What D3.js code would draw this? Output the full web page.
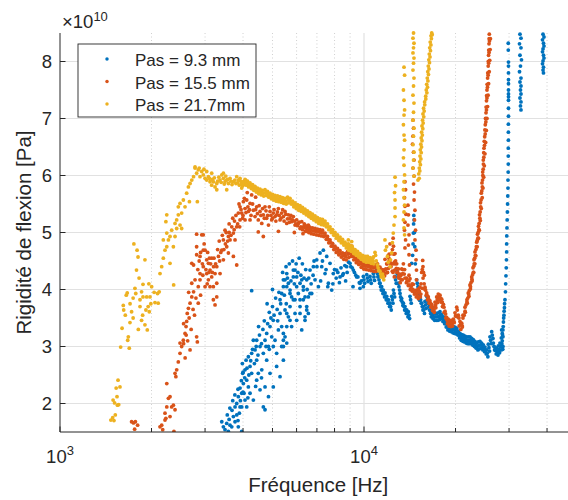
<!DOCTYPE html>
<html>
<head>
<meta charset="utf-8">
<script src="https://cdn.jsdelivr.net/npm/d3@7/dist/d3.min.js"></script>
<style>
    body { margin: 0; background: #fff; }
    text { font-family: "Liberation Sans", Arial, sans-serif; fill: #262626; }
</style>
</head>
<body>
<svg id="chart" width="568" height="500"></svg>
<script>
// values: [frequency in Hz, rigidity in 1e10 Pa]
var pas93 = [
    [3405,1.68],[3447,1.59],[3490,1.54],[3535,1.65],[3580,1.51],[3625,1.62],[3672,1.59],[3718,1.77],[3765,1.68],[3813,1.80],[3860,1.59],[3960,1.51],[3765,1.94],[3910,1.94],
    [3550,1.80],[3620,1.92],[3700,2.05],[3760,2.15],[3850,1.70],[3680,1.88],[3600,1.72],[3950,2.40],[4000,2.55],
    [3813,2.00],[3860,2.12],[3910,2.27],[3960,2.18],[4010,2.35],[3990,2.53],[4061,2.59],[4113,2.41],[4093,2.76],[4165,2.82],[4218,2.65],[4270,2.88],
    [4325,3.11],[4381,2.94],[4435,2.76],[4490,2.53],[4550,2.24],[4665,1.94],[4725,1.89],[4325,2.06],[4218,2.18],[4113,1.94],[4061,2.06],[4435,2.41],
    [4610,2.59],[4665,2.88],[4725,3.11],[4785,3.23],[4850,3.00],[4908,3.35],[4970,3.17],[5030,3.46],[5097,3.11],[5160,2.88],[5228,3.29],[5294,3.58],
    [5360,3.35],[5430,3.11],[5498,3.17],[5570,3.35],[5294,3.82],[5360,3.93],[5430,4.05],[5498,4.17],[5570,4.28],[5640,4.11],[5710,3.99],[5780,3.87],
    [5855,4.22],[5931,4.34],[6005,4.05],[6080,3.93],[6160,3.82],[6240,4.17],[6315,4.05],[6397,3.87],[6480,3.70],[6560,3.58],[6644,3.93],[5855,3.82],
    [5710,3.70],[5570,3.58],[5030,3.00],[4785,2.76],[4550,3.00],[4435,3.11],[4270,2.53],[4165,2.29],[4030,2.18],[3960,1.94],[3890,1.83],[4908,2.53],
    [5030,2.29],[4725,2.29],[4850,2.12],[5160,2.65],[5430,3.00],[5710,3.46],[5931,3.58],[6160,3.58],[6397,3.46],[4270,3.98],
    [5430,4.17],[5570,4.05],[5710,3.93],[5855,4.34],[6005,4.22],[5931,3.82],[6160,4.11],[6315,3.99],[6480,4.17],[6644,4.34],[6815,4.40],
    [5498,3.64],[5640,3.52],[5780,3.35],[5430,3.23],[6005,3.46],[6160,3.70],[6315,3.82],[6480,3.64],[6730,3.93],[6990,4.52],[7167,4.64],[7350,4.69],
    [7540,4.58],[7731,4.46],[7260,4.40],[7444,4.28],[7635,4.11],[7830,3.99],[7925,4.28],[8130,4.34],[8339,4.22],[8550,4.28],[8770,4.40],[8995,4.46],
    [9225,4.34],[9460,4.22],[9702,4.11],[9950,4.05],[6901,4.17],[7080,4.05],[6560,3.87],[6397,3.52],[6240,3.29],[5570,3.06],[5430,2.76],[5294,2.47],[5360,3.00],
    [3850,2.25],[3920,2.05],[4000,2.20],[4050,2.45],[4120,2.62],[4180,2.50],[4240,2.75],[4300,2.95],[4360,2.70],[4420,3.00],[4480,2.85],[4530,3.20],
    [4600,3.05],[4650,3.30],[4700,3.45],[4760,3.00],[4820,3.40],[4880,3.60],[4940,3.50],[5000,3.70],[5060,3.55],[5120,3.85],[5180,3.65],[5250,3.95],
    [5320,3.75],[5400,4.30],[5470,3.90],[5540,4.40],[5600,4.20],[5680,4.45],[5750,4.15],[5820,4.50],[5900,4.10],[5980,4.45],[6060,4.30],[6120,4.55],
    [6200,4.25],[6270,4.45],[6350,4.20],[6430,4.35],[6500,4.00],[6580,4.20],[6700,4.10],[6850,4.50],[4400,2.30],[4600,2.45],[4150,2.10],[3980,2.70],
    [4500,3.35],[4880,2.95],[5200,3.45],[5550,3.75],[5000,4.00],[4800,3.75],
    [8000,4.35],[8200,4.30],[8400,4.38],[8650,4.42],[8900,4.48],[9050,4.40],[9300,4.30],[9550,4.22],[9800,4.15],[8100,4.20],[8500,4.25],[8800,4.30],
    [9150,4.38],[9400,4.25],[9650,4.12],[7500,4.35],[7300,4.50],[7000,4.40],[6800,4.25],[7200,4.15],[7600,4.05],[7900,4.10],[8300,4.12],[8700,4.15],[9200,4.05],[9700,4.02],
    [9950,4.23],[10210,4.26],[10465,4.23],[10730,4.28],[11010,4.34],[11150,4.23],[11288,4.11],[11430,4.05],[11575,3.99],[11725,3.94],[11875,3.88],[12020,3.82],
    [12176,3.76],[12335,3.88],[12495,3.99],[12646,4.23],[12810,4.34],[12970,4.11],[13134,3.93],[13300,3.84],[13475,3.76],[13640,3.70],[13815,3.64],[13990,3.61],
    [14167,3.88],[14350,4.46],[14905,4.17],[15095,3.93],[15282,3.88],[15480,3.76],[15660,3.70],[15870,3.79],[16077,3.88],[16274,3.76],[16484,3.64],[16700,3.61],
    [16910,3.58],[17120,3.58],[17340,3.58],[17550,3.59],[17780,3.61],[18010,3.56],[18240,3.52],[18466,3.46],[18700,3.41],[18930,3.39],[19179,3.38],[19430,3.36],
    [19680,3.35],[19919,3.34],[20180,3.32],[20430,3.27],[20687,3.23],[20955,3.21],[21210,3.20],[21485,3.18],[21740,3.17],[22030,3.17],[22315,3.17],[22600,3.14],
    [22880,3.12],[23176,3.09],[23477,3.06],[23770,3.08],[24070,3.09],[24370,3.06],[24680,3.03],[25000,2.99],[25317,2.94],[25640,3.04],[25964,3.17],[26300,3.26],
    [26640,3.06],[26966,2.99],[27330,2.97],[27660,3.01],[28006,3.06],[28370,3.29],
    [9995,4.17],[10256,4.20],[10512,4.17],[10778,4.22],[11060,4.28],[11200,4.17],[11339,4.05],[11481,3.99],[11627,3.93],[11778,3.88],[11928,3.82],[12074,3.76],
    [12231,3.70],[12390,3.82],[12551,3.93],[12703,4.17],[12868,4.28],[13028,4.05],[13193,3.87],[13360,3.78],[13536,3.70],[13701,3.64],[13877,3.58],[14053,3.55],
    [14231,3.82],[14972,4.11],[15163,3.87],[15351,3.82],[15550,3.70],[15730,3.64],[15941,3.73],[16149,3.82],[16347,3.70],[16558,3.58],[16775,3.55],[16986,3.52],
    [17197,3.52],[17418,3.52],[17629,3.53],[17860,3.55],[18091,3.50],[18322,3.46],[18549,3.40],[18784,3.35],[19015,3.33],[19265,3.32],[19517,3.30],[19769,3.29],
    [20009,3.28],[20271,3.26],[20522,3.21],[20780,3.17],[21049,3.15],[21305,3.14],[21582,3.12],[21838,3.11],[22129,3.11],[22415,3.11],[22702,3.08],[22983,3.06],
    [23280,3.03],[23583,3.00],[23877,3.02],[24178,3.03],[24480,3.00],[24791,2.97],[25112,2.93],[25431,2.88],[25755,2.98],[26081,3.11],[26418,3.20],[26760,3.00],
    [27087,2.93],[27453,2.91],[27784,2.95],[28132,3.00],[28498,3.23],
    [10045,4.11],[10307,4.14],[10564,4.11],[10832,4.16],[11115,4.22],[11256,4.11],[11395,3.99],[11540,3.93],[11685,3.87],[11836,3.82],[11988,3.76],[12134,3.70],
    [12292,3.64],[12452,3.76],[12614,3.87],[12766,4.11],[12932,4.22],[13093,3.99],[13259,3.81],[13426,3.72],[13603,3.64],[13770,3.58],[13946,3.52],[14123,3.49],
    [14302,3.76],[15047,4.05],[15238,3.81],[15427,3.76],[15627,3.64],[15809,3.58],[16021,3.67],[16230,3.76],[16429,3.64],[16641,3.52],[16859,3.49],[17071,3.46],
    [17283,3.46],[17505,3.46],[17717,3.47],[17949,3.49],[18181,3.44],[18413,3.40],[18641,3.34],[18878,3.29],[19110,3.27],[19361,3.26],[19615,3.24],[19867,3.23],
    [20108,3.22],[20372,3.20],[20624,3.15],[20883,3.11],[21154,3.09],[21411,3.08],[21689,3.06],[21946,3.05],[22239,3.05],[22527,3.05],[22815,3.02],[23097,3.00],
    [23396,2.97],[23700,2.94],[23996,2.96],[24299,2.97],[24601,2.94],[24914,2.91],[25237,2.87],[25558,2.82],[25884,2.92],[26211,3.05],[26550,3.14],[26893,2.94],
    [27222,2.87],[27590,2.85],[27922,2.89],[28272,2.94],[28640,3.17],
    [14450,4.60],[14500,4.80],[14530,4.99],[14560,5.15],[14580,5.30],[14610,5.22],[14650,5.00],[14690,4.75],[14750,4.45],
    [28500,3.10],[28560,3.20],[28700,3.35],[28800,3.50],[28900,3.62],[29000,3.75],[28400,3.05],[28300,3.15],[28650,3.00],[28600,2.95],
    [28640,3.29],[28750,3.43],[28860,3.55],[28970,3.68],[29087,3.82],[29197,3.96],[29240,4.10],[29307,4.24],[29374,4.38],[29418,4.52],[29463,4.66],[29463,4.80],
    [29485,4.94],[29530,5.08],[29575,5.22],[29620,5.36],[29665,5.50],[29710,5.64],[29755,5.78],[29755,5.92],[29800,6.06],[29823,6.20],[29823,6.34],[29823,6.48],
    [29846,6.62],[29846,6.76],[29846,6.90],[29870,7.04],[29870,7.18],[29870,7.32],[29870,7.38],[29870,7.43],[29870,7.50],[29870,7.61],[29870,7.68],[29870,7.80],
    [29870,7.92],[29870,7.99],[29823,8.20],[29823,8.32],
    [32586,8.48],[32835,8.41],[32470,8.31],[32835,8.24],[32586,8.11],[32960,8.03],[32710,7.92],[32470,7.82],[32835,7.71],[32586,7.64],[32835,7.57],[32710,7.50],
    [32835,7.43],[32586,7.36],[32835,7.29],[32710,7.22],[32835,7.15],
    [38800,8.48],[39080,8.43],[38650,8.38],[38940,8.32],[39080,8.27],[38800,8.22],[38650,8.17],[38940,8.11],[39080,8.06],[38800,8.01],[38650,7.96],[38940,7.90],
    [38800,7.85],[38940,7.80]
];

var pas155 = [
    [1720,1.68],[1745,1.66],[1770,1.68],[1800,1.62],[1760,1.55],
    [2133,1.59],[2160,1.62],[2177,1.54],[2215,1.83],[2230,1.74],[2245,1.94],[2273,2.09],[2301,2.12],[2301,1.77],[2330,1.94],[2360,1.97],[2370,1.51],[2390,1.89],[2245,2.35],[2215,1.71],
    [2390,2.53],[2420,2.59],[2450,2.73],[2405,2.47],[2482,2.88],[2513,3.00],[2545,3.11],[2578,3.23],[2482,3.06],[2598,3.35],[2610,3.44],[2622,3.58],[2645,3.67],
    [2678,2.94],[2678,3.76],[2713,3.87],[2713,4.11],[2750,4.43],[2750,3.96],[2781,4.17],[2815,4.75],[2815,3.17],[2830,3.08],[2850,3.76],[2850,4.05],[2888,4.58],
    [2888,4.28],[2925,4.96],[2960,4.96],[2960,4.69],[2960,4.40],[3000,4.05],[3038,4.28],[3038,4.52],[3077,4.17],[3115,4.34],[3115,4.05],[3155,4.22],[3195,4.05],
    [3195,3.82],[3236,3.73],[3236,4.28],[3278,4.40],[3278,4.11],[3320,4.58],[3361,4.28],[3405,4.69],[3447,4.87],[3447,4.52],[3490,5.04],[3535,4.75],[3580,4.93],
    [3580,4.64],[3625,4.87],[3672,5.10],[3718,4.99],[3718,4.58],[3765,4.87],[3813,5.10],[3813,4.43],[3860,5.34],[3910,5.45],[3910,5.22],[3960,5.34],[4010,5.54],
    [4061,5.42],[4061,5.22],[4113,5.57],[4165,5.37],[4218,5.51],[4218,5.22],[4270,5.66],[4325,5.39],[4381,5.28],[4435,5.45],[4490,5.22],[4550,5.37],[4610,5.16],
    [4665,5.31],[4725,5.45],[4785,5.25],[4850,5.13],[4908,5.37],[4970,5.22],[5030,5.34],[5097,5.28],[5160,5.31],[5228,5.42],[5294,5.22],[5360,5.34],[5430,5.28],
    [5498,5.37],[5570,5.16],[5640,5.31],[5710,5.25],[5780,5.19],[5855,5.28],[5931,5.13],[6005,5.22],[6080,5.16],[6160,5.07],[6240,5.19],[6315,5.10],[6480,5.07],
    [6560,5.13],[6644,5.04],
    [4665,4.93],[4490,5.01],[2815,4.97],[2713,4.46],[2815,4.61],[3155,4.55],[3077,4.46],[3278,3.87],[3000,4.69],[2888,4.17],
    [2550,3.05],[2580,2.80],[2630,3.10],[2660,3.50],[2700,3.30],[2740,3.65],[2770,3.55],[2800,3.85],[2840,4.35],[2870,4.50],[2900,4.65],[2940,4.45],
    [2980,4.80],[3020,4.35],[3060,4.65],[3090,4.30],[3130,4.45],[3170,4.30],[3210,4.55],[3250,4.45],[3300,4.70],[3340,4.85],[3380,4.65],[3420,4.95],
    [3460,4.70],[3520,5.00],[3560,4.85],[3600,5.15],[3650,4.95],[3700,5.25],[3740,5.05],[3790,5.30],[3840,5.15],[3880,5.50],[3940,5.40],[3990,5.25],
    [4040,5.60],[4090,5.35],[4130,5.70],[4200,5.40],
    [4150,5.45],[4250,5.30],[4300,5.50],[4400,5.40],[4460,5.33],[4520,5.47],[4580,5.30],[4640,5.42],[4700,5.25],[4760,5.38],[4820,5.30],[4880,5.45],[4940,5.30],
    [5000,5.25],[5060,5.40],[5130,5.20],[5190,5.36],[5260,5.30],[5330,5.25],[5400,5.40],[5460,5.20],[5530,5.32],[5600,5.24],[5680,5.18],[5750,5.30],[5820,5.22],
    [5900,5.20],[5970,5.15],[6040,5.12],[6120,5.18],[6200,5.10],[6280,5.05],[6360,5.15],[6420,5.02],[6600,5.10],[5230,5.02],[5900,5.00],[6300,4.98],[4400,5.62],
    [4000,5.30],[3900,5.10],[3750,5.20],[3600,5.00],[3500,4.80],[3350,4.50],[3200,4.40],[3100,4.55],[3050,4.10],[2950,4.25],[2900,3.90],[2650,3.95],[2600,3.20],[2550,3.40],
    [6397,5.13],[6520,5.11],[6644,5.09],[6771,5.08],[6901,5.07],[7032,5.06],[7167,5.05],[7304,5.04],[7444,4.99],[7586,4.93],[7731,4.87],[7879,4.81],[8029,4.76],
    [8183,4.72],[8339,4.68],[8498,4.64],[8661,4.63],[8827,4.67],[8880,4.74],[8995,4.69],[9110,4.76],[9167,4.63],[9342,4.58],[9521,4.55],[9702,4.50],[9888,4.47],
    [10076,4.46],[10269,4.45],[10465,4.44],[10665,4.43],[10869,4.43],[11077,4.45],[11288,4.39],[11504,4.35],[11724,4.53],[11875,4.45],[12020,4.60],[12176,4.80],
    [12335,4.63],[12646,4.63],[12810,4.45],[12970,4.36],[13134,4.27],[13305,4.36],[13475,4.45],[14167,4.19],[14530,4.09],[14905,3.99],[15095,4.01],[15282,4.04],
    [15480,4.30],[15597,4.51],[15690,4.30],[15871,4.04],[16077,3.94],[16274,3.87],[16484,3.80],[16700,3.74],[16910,3.69],[17120,3.78],[17340,3.87],[17550,3.92],
    [17780,3.90],[18010,3.83],[18240,3.74],[18466,3.62],[18700,3.51],[18930,3.48],[19179,3.46],[19430,3.46],[19680,3.48],[19919,3.59],[20180,3.69],[20430,3.55],
    [20687,3.44],[20955,3.41],[21161,3.55],
    [6426,5.08],[6549,5.06],[6674,5.04],[6801,5.03],[6932,5.02],[7064,5.01],[7199,5.00],[7337,4.99],[7477,4.94],[7620,4.88],[7766,4.82],[7914,4.76],
    [8065,4.71],[8220,4.67],[8377,4.63],[8536,4.59],[8700,4.58],[8867,4.62],[9035,4.64],[9208,4.58],[9384,4.53],[9564,4.50],[9746,4.45],[9932,4.42],
    [10121,4.41],[10315,4.40],[10512,4.39],[10713,4.38],[10918,4.38],[11127,4.40],[11339,4.34],[11556,4.30],[15942,3.99],[16149,3.89],[16347,3.82],[16558,3.75],
    [16775,3.69],[16986,3.64],[17197,3.73],[17418,3.82],[17629,3.87],[17860,3.85],[18091,3.78],[18322,3.69],[18549,3.57],[18784,3.46],[19015,3.43],[19265,3.41],
    [19517,3.41],[19769,3.43],[20009,3.54],[20271,3.64],[20522,3.50],[20780,3.39],[21049,3.36],
    [11950,4.30],[12250,4.45],[12700,4.50],[13050,4.25],[13600,4.35],[13800,4.20],[14050,4.15],[14400,4.10],[14800,3.98],[15200,3.97],[15550,4.35],[12400,4.70],[12100,4.62],
    [11575,4.30],[11724,4.35],[11900,4.45],[12080,4.55],[12270,4.40],[12460,4.30],[12646,4.45],[12840,4.30],[13030,4.20],[13230,4.25],[13430,4.35],[13640,4.20],
    [13850,4.15],[14060,4.08],[14280,4.05],[14490,4.00],[14714,3.95],[14940,3.92],[15170,3.95],[15400,4.10],[15630,4.40],[15871,4.00],
    [11690,4.24],[11840,4.29],[12020,4.37],[12200,4.47],[12390,4.32],[12580,4.22],[12770,4.37],[12970,4.22],[13160,4.12],[13360,4.17],[13560,4.27],[13780,4.12],
    [13990,4.07],[14200,4.00],[14420,3.97],[14640,3.92],[14860,3.87],[15090,3.84],[15320,3.87],[15550,4.02],[15790,4.25],
    [6458,5.02],[6582,5.00],[6707,4.98],[6835,4.97],[6967,4.96],[7099,4.95],[7235,4.94],[7373,4.93],[7515,4.88],[7658,4.82],[7804,4.76],[7954,4.70],[8105,4.65],
    [8261,4.61],[8418,4.57],[8579,4.53],[8743,4.52],[8911,4.56],[9080,4.58],[9254,4.52],[9431,4.47],[9611,4.44],[9794,4.39],[9982,4.36],[10172,4.35],[10367,4.34],
    [10564,4.33],[10766,4.32],[10972,4.32],[11182,4.34],[11395,4.28],[11613,4.24],[11800,4.36],[12100,4.50],[12450,4.45],[12900,4.30],[13220,4.18],[13400,4.28],
    [14300,4.06],[14670,3.97],[15010,3.88],[15380,3.92],[15640,4.20],[15770,4.10],[16020,3.90],[16180,3.82],[16380,3.76],[16600,3.69],[16800,3.63],[17020,3.60],
    [17230,3.68],[17450,3.77],[17660,3.82],[17900,3.78],[18120,3.70],[18350,3.60],[18580,3.50],[18820,3.40],[19050,3.36],[19300,3.35],[19560,3.36],[19800,3.42],
    [20050,3.53],[20300,3.52],[20560,3.36],[20820,3.30],[21060,3.34],
    [12470,4.90],[12500,4.76],[12540,4.62],[12580,4.48],[12620,4.34],
    [13640,5.89],[13700,5.75],[13590,5.61],[13640,5.46],[13740,5.32],[13640,5.18],[13590,5.04],[13700,4.87],[13640,4.73],
    [13950,5.48],[14000,5.31],[13950,5.13],[14060,4.96],[14000,4.78],[14060,4.61],[14110,4.43],[14060,4.25],
    [14490,6.97],[14550,6.83],[14490,6.69],[14440,6.55],[14550,6.41],[14610,6.27],[14490,6.13],[14610,5.99],[14550,5.85],[14660,5.71],[14610,5.57],[14710,5.39],
    [14660,5.22],[14770,5.04],[14710,4.87],[14830,4.69],[14830,4.52],[14880,4.34],[14880,4.17],
    [21161,3.50],[21485,3.69],[21812,3.82],[22030,3.94],[22315,4.08],[22606,4.22],[22830,4.38],[23003,4.52],[23176,4.66],[23477,4.83],[23620,4.97],[23800,5.11],
    [23980,5.31],[24162,5.52],[24310,5.69],[24440,5.87],[24570,6.06],[24680,6.27],[24810,6.48],[24943,6.68],[25057,6.89],[25190,7.10],[25286,7.31],[25382,7.50],
    [25498,7.71],[25614,7.92],[25692,8.11],[25770,8.31],[25830,8.48],
    [21350,3.55],[21650,3.73],[21950,3.85],[22200,3.98],[22480,4.12],[22760,4.26],[22960,4.41],[23120,4.55],[23340,4.70],[23580,4.86],[23740,5.00],[23920,5.16],
    [24100,5.36],[24270,5.57],[24400,5.73],[24540,5.92],[24660,6.11],[24780,6.32],[24910,6.53],[25040,6.73],[25160,6.94],[25280,7.15],[25380,7.36],[25480,7.55],
    [25600,7.76],[25710,7.97],[25790,8.16],[25860,8.36],
    [21540,3.60],[21870,3.76],[22140,3.88],[22390,4.01],[22680,4.15],[22950,4.30],[23150,4.45],[23320,4.59],[23560,4.75],[23790,4.90],[23950,5.04],[24130,5.21],
    [24310,5.42],[24480,5.61],[24620,5.78],[24750,5.97],[24870,6.17],[24990,6.38],[25120,6.58],[25250,6.79],[25375,7.00],[25490,7.21],[25590,7.41],[25690,7.61],
    [25810,7.82],[25910,8.02],[25990,8.21],[26050,8.40],
    [21500,3.62],[21800,3.78],[22100,3.92],[22400,4.05],[22650,4.18],[22880,4.30],[23050,4.45],[23250,4.60],[23420,4.75],[23700,4.90],[23880,5.05],[24050,5.25],
    [24200,5.45],[24500,5.80],[24600,6.00],[24700,6.20],[24760,6.40],[24860,6.60],[24980,6.80],[25100,7.00],[25210,7.20],[25310,7.40],[25420,7.60],[25530,7.80],
    [25640,8.00],[25720,8.20],[25800,8.40]
];

var pas217 = [
    [1470,1.71],[1490,1.75],[1505,1.70],[1520,1.80],[1495,2.06],[1512,2.01],[1545,1.97],[1560,1.98],[1530,2.27],[1575,2.29],[1552,2.41],[1540,2.12],
    [1583,2.99],[1600,3.32],[1620,3.64],[1615,3.72],[1652,3.90],[1664,3.94],[1699,3.42],[1670,3.11],[1690,2.97],[1678,3.17],[1720,3.61],[1740,3.85],
    [1764,4.02],[1785,4.34],[1793,4.69],[1750,4.80],[1806,4.57],[1820,4.20],[1855,3.96],[1875,4.09],[1833,3.82],[1855,3.46],[1903,3.38],[1937,3.29],
    [1950,3.70],[1977,3.87],[2002,4.05],[1928,3.87],[1966,3.61],[2094,3.93],[2120,3.96],[2104,3.76],[2053,3.77],[1903,4.52],[1775,3.93],[1875,3.87],
    [1833,3.70],[1917,3.64],[1640,3.55],[1700,3.75],[1740,3.50],[1810,3.30],[1870,3.55],[1990,3.75],[2040,3.95],[1960,4.10],
    [2133,4.28],[2160,4.40],[2187,4.55],[2215,4.69],[2245,4.75],[2273,4.87],[2301,4.93],[2245,4.99],[2330,5.04],[2390,5.16],[2420,5.22],[2450,5.31],
    [2450,5.45],[2482,5.51],[2545,5.57],[2578,5.45],[2513,5.34],[2610,5.69],[2645,5.80],[2678,5.86],[2713,5.92],[2750,5.98],[2781,6.13],[2815,6.04],
    [2850,6.10],[2888,5.98],[2925,6.07],[2960,6.01],[3000,5.95],[3038,5.92],[3038,6.07],[3077,5.98],[3115,5.89],[3155,5.83],[3195,5.89],[3236,5.80],
    [3278,5.86],[3361,5.92],[3405,6.01],[3447,5.95],[3490,5.89],[3535,5.92],[3580,5.86],[3625,5.95],[3718,5.89],[3813,5.98],[3860,5.92],[3910,5.95],
    [3960,5.86],[4010,5.89],
    [2245,5.31],[2230,5.19],[2360,4.75],[2390,4.93],[2365,4.08],[2301,4.46],[2187,4.87],[2830,5.54],[2665,5.54],[2513,5.07],[2482,5.13],[2420,5.07],
    [2781,6.15],[2870,6.13],[2975,6.11],[3155,6.04],[3447,6.04],[3278,5.75],[3535,5.75],[3960,5.78],
    [3100,5.95],[3170,5.93],[3220,5.96],[3300,5.90],[3330,5.97],[3390,5.88],[3470,5.85],[3510,5.99],[3560,5.93],[3650,5.90],[3680,5.84],[3760,5.92],
    [3790,5.86],[3840,5.87],[3890,5.83],[3935,5.90],[3985,5.82],[4040,5.84],[4080,5.92],
    [4061,5.93],[4140,5.90],[4218,5.87],[4298,5.84],[4381,5.81],[4463,5.78],[4550,5.76],[4636,5.74],[4725,5.75],[4815,5.72],[4908,5.69],[5000,5.67],
    [5097,5.65],[5195,5.64],[5294,5.63],[5395,5.61],[5498,5.60],[5604,5.62],[5710,5.60],[5820,5.55],[5931,5.52],[6043,5.49],[6160,5.47],[6278,5.44],
    [6397,5.41],[6520,5.38],[6644,5.35],[6771,5.32],[6901,5.29],[7032,5.26],[7167,5.24],[7304,5.23],[7444,5.20],[7586,5.15],[7731,5.10],[7879,5.05],
    [8029,5.00],[8183,4.96],[8339,4.92],[8498,4.88],[8661,4.83],[8827,4.79],[8995,4.77],[9167,4.73],[9342,4.70],[9521,4.67],[9702,4.63],[9888,4.60],
    [10076,4.58],[10269,4.58],[10465,4.56],[10665,4.55],[10869,4.65],[11077,4.43],[11288,4.32],[11504,4.27],
    [4079,5.88],[4159,5.85],[4237,5.82],[4317,5.79],[4401,5.76],[4483,5.73],[4570,5.71],[4657,5.69],[4746,5.70],[4837,5.67],[4930,5.64],[5022,5.62],
    [5120,5.60],[5218,5.59],[5318,5.58],[5419,5.56],[5523,5.55],[5629,5.57],[5736,5.55],[5846,5.50],[5958,5.47],[6070,5.44],[6188,5.42],[6306,5.39],
    [6426,5.36],[6549,5.33],[6674,5.30],[6801,5.27],[6932,5.24],[7064,5.21],[7199,5.19],[7337,5.18],[7477,5.15],[7620,5.10],[7766,5.05],[7914,5.00],
    [8065,4.95],[8220,4.91],[8377,4.87],[8536,4.83],[8700,4.78],[8867,4.74],[9035,4.72],[9208,4.68],[9384,4.65],[9564,4.62],[9746,4.58],[9932,4.55],
    [10121,4.53],[10315,4.53],[10512,4.51],[10713,4.50],[10918,4.60],[11127,4.38],[11339,4.27],[11556,4.22],
    [4100,5.83],[4173,5.80],[4258,5.77],[4339,5.74],[4423,5.71],[4505,5.68],[4593,5.66],[4680,5.64],[4770,5.65],[4861,5.62],[4955,5.59],[5048,5.57],
    [5145,5.55],[5244,5.54],[5344,5.53],[5446,5.51],[5550,5.50],[5657,5.52],[5764,5.50],[5875,5.45],[5987,5.42],[6100,5.39],[6218,5.37],[6338,5.34],
    [6458,5.31],[6582,5.28],[6707,5.25],[6835,5.22],[6967,5.19],[7099,5.16],[7235,5.14],[7373,5.13],[7515,5.10],[7658,5.05],[7804,5.00],[7954,4.95],
    [8105,4.90],[8261,4.86],[8418,4.82],[8579,4.78],[8743,4.73],[8911,4.69],[9080,4.67],[9254,4.63],[9431,4.60],[9611,4.57],[9794,4.53],[9982,4.50],
    [10172,4.48],[10367,4.48],[10564,4.46],[10766,4.45],[10972,4.50],[11182,4.33],[11395,4.22],[11613,4.17],
    [8880,4.87],[8890,4.80],[9110,4.84],[9130,4.76],[10740,4.57],[11720,4.87],[11760,4.69],[11870,4.75],[11940,4.58],[12010,4.48],[12180,4.40],[12220,4.52],
    [12330,4.64],[12400,4.82],[12480,4.99],[12550,5.13],[12650,5.28],[12650,5.43],[12650,5.57],[12600,5.70],[12700,5.82],[12650,5.97],[11560,4.22],[11450,4.23],
    [13540,7.90],[13600,7.76],[13480,7.50],[13540,7.32],[13600,7.15],[13540,7.06],[13480,6.89],[13540,6.71],[13600,6.62],[13540,6.45],[13480,6.31],[13540,6.18],
    [13600,6.01],[13540,5.89],[13480,5.75],[13540,5.61],[13600,5.48],[13540,5.36],[13480,5.22],[13540,5.08],[13600,4.96],
    [14550,8.50],[14490,8.41],[14600,8.32],[14550,8.24],[14490,8.15],[14600,8.06],[14550,7.97],[14490,7.85],[14600,7.71],[14550,7.57],[14490,7.41],[14600,7.27],
    [14550,7.11],[14490,6.97],[14600,6.83],[14550,6.69],[14490,6.54],[14600,6.41],[14550,6.27],[14490,6.13],[14600,5.99],
    [15051,5.92],[15143,6.03],[15200,6.13],[15247,6.24],[15282,6.34],[15317,6.45],[15375,6.55],[15421,6.66],[15468,6.76],[15514,6.87],[15585,6.97],[15632,7.08],
    [15703,7.18],[15823,7.29],[15955,7.39],[16028,7.50],[16077,7.60],[16150,7.71],[16212,7.82],[16274,7.92],[16336,8.03],[16398,8.13],[16448,8.24],[16512,8.34],
    [16612,8.45],[16700,8.50],
    [15190,5.95],[15260,6.08],[15330,6.19],[15385,6.29],[15420,6.40],[15460,6.50],[15515,6.61],[15560,6.71],[15610,6.82],[15655,6.92],[15725,7.03],[15775,7.13],
    [15845,7.24],[15965,7.34],[16100,7.45],[16175,7.55],[16225,7.66],[16295,7.77],[16360,7.87],[16420,7.98],[16485,8.08],[16545,8.19],[16600,8.29],[16660,8.40],[16760,8.47]
];

var seriesNames = ['Pas = 9.3 mm', 'Pas = 15.5 mm', 'Pas = 21.7mm'];
var seriesColors = ['#0072BD', '#D95319', '#EDB120'];
var yTicks = [2, 3, 4, 5, 6, 7, 8];
var xMajor = [1e3, 1e4];
var xMinor = [2e3, 3e3, 4e3, 5e3, 6e3, 7e3, 8e3, 9e3, 2e4, 3e4, 4e4];
var xLabel = 'Fréquence [Hz]';
var yLabel = 'Rigidité de flexion [Pa]';

var svg = d3.select('#chart');

var plotL = 60, plotR = 576.5, plotT = 33, plotB = 432;

var x = d3.scaleLog().domain([1e3, 5e4]).range([plotL, plotR]);
var y = d3.scaleLinear().domain([1.5, 8.5]).range([plotB, plotT]);

svg.append('clipPath').attr('id', 'plotclip')
    .append('rect')
    .attr('x', plotL).attr('y', plotT - 2)
    .attr('width', plotR - plotL).attr('height', plotB - plotT + 2);

// grid
var grid = svg.append('g');
grid.selectAll('.minor')
    .data(xMinor)
    .enter()
    .append('line')
    .attr('x1', function(d) { return x(d); })
    .attr('x2', function(d) { return x(d); })
    .attr('y1', plotT).attr('y2', plotB)
    .style('stroke', '#c4c4c4')
    .style('stroke-width', 0.8)
    .style('stroke-dasharray', '1,2.5');

grid.selectAll('.ymaj')
    .data(yTicks)
    .enter()
    .append('line')
    .attr('x1', plotL).attr('x2', 568)
    .attr('y1', function(d) { return y(d); })
    .attr('y2', function(d) { return y(d); })
    .style('stroke', '#e1e1e1')
    .style('stroke-width', 1.2);

grid.append('line')
    .attr('x1', x(1e4)).attr('x2', x(1e4))
    .attr('y1', plotT).attr('y2', plotB)
    .style('stroke', '#e1e1e1')
    .style('stroke-width', 1.2);

// points
var plot = svg.append('g').attr('clip-path', 'url(#plotclip)');
[pas93, pas155, pas217].forEach(function(series, i) {
    plot.append('g')
        .selectAll('circle')
        .data(series)
        .enter()
        .append('circle')
        .attr('cx', function(d) { return x(d[0]); })
        .attr('cy', function(d) { return y(d[1]); })
        .attr('r', 1.9)
        .style('fill', seriesColors[i]);
});

// axes
var axes = svg.append('g').style('stroke', '#262626');
axes.append('line')
    .attr('x1', plotL).attr('x2', plotL)
    .attr('y1', plotT).attr('y2', plotB)
    .style('stroke-width', 1);
axes.append('line')
    .attr('x1', plotL).attr('x2', 568)
    .attr('y1', plotB).attr('y2', plotB)
    .style('stroke-width', 1);

axes.selectAll('.yt')
    .data(yTicks)
    .enter()
    .append('line')
    .attr('x1', plotL).attr('x2', plotL + 5.5)
    .attr('y1', function(d) { return y(d); })
    .attr('y2', function(d) { return y(d); });

axes.selectAll('.xt')
    .data(xMajor)
    .enter()
    .append('line')
    .attr('x1', function(d) { return x(d); })
    .attr('x2', function(d) { return x(d); })
    .attr('y1', plotB).attr('y2', plotB - 5.5);

axes.selectAll('.xm')
    .data(xMinor)
    .enter()
    .append('line')
    .attr('x1', function(d) { return x(d); })
    .attr('x2', function(d) { return x(d); })
    .attr('y1', plotB).attr('y2', plotB - 4);

// tick labels
svg.selectAll('.ylab')
    .data(yTicks)
    .enter()
    .append('text')
    .attr('x', 52)
    .attr('y', function(d) { return y(d) + 6.5; })
    .attr('text-anchor', 'end')
    .style('font-size', '18.5px')
    .text(function(d) { return d; });

var xl = svg.selectAll('.xlab')
    .data(xMajor)
    .enter()
    .append('text')
    .attr('x', function(d) { return x(d); })
    .attr('y', 463)
    .attr('text-anchor', 'middle')
    .style('font-size', '18.5px');
xl.append('tspan').text('10');
xl.append('tspan')
    .attr('dy', -8)
    .style('font-size', '13px')
    .text(function(d) { return Math.round(Math.log10(d)); });

// exponent label
var ex = svg.append('text')
    .attr('x', 62)
    .attr('y', 28)
    .style('font-size', '18.5px');
ex.append('tspan').text('\u00d710');
ex.append('tspan').attr('dy', -7).style('font-size', '13px').text('10');

// axis titles
svg.append('text')
    .attr('x', (plotL + plotR) / 2)
    .attr('y', 492)
    .attr('text-anchor', 'middle')
    .style('font-size', '20.5px')
    .text(xLabel);

svg.append('text')
    .attr('transform', 'translate(30.5,' + ((plotT + plotB) / 2) + ') rotate(-90)')
    .attr('text-anchor', 'middle')
    .style('font-size', '20.5px')
    .text(yLabel);

// legend
var legend = svg.append('g');
legend.append('rect')
    .attr('x', 78).attr('y', 44)
    .attr('width', 178).attr('height', 73)
    .style('fill', '#fff')
    .style('stroke', '#262626')
    .style('stroke-width', 0.9);

var items = legend.selectAll('.item')
    .data(seriesNames)
    .enter()
    .append('g')
    .attr('transform', function(d, i) { return 'translate(0,' + (59 + i * 22.5) + ')'; });
items.append('circle')
    .attr('cx', 107).attr('cy', 0).attr('r', 1.75)
    .style('fill', function(d, i) { return seriesColors[i]; });
items.append('text')
    .attr('x', 135).attr('y', 7)
    .style('font-size', '17px')
    .text(function(d) { return d; });
</script>
</body>
</html>
